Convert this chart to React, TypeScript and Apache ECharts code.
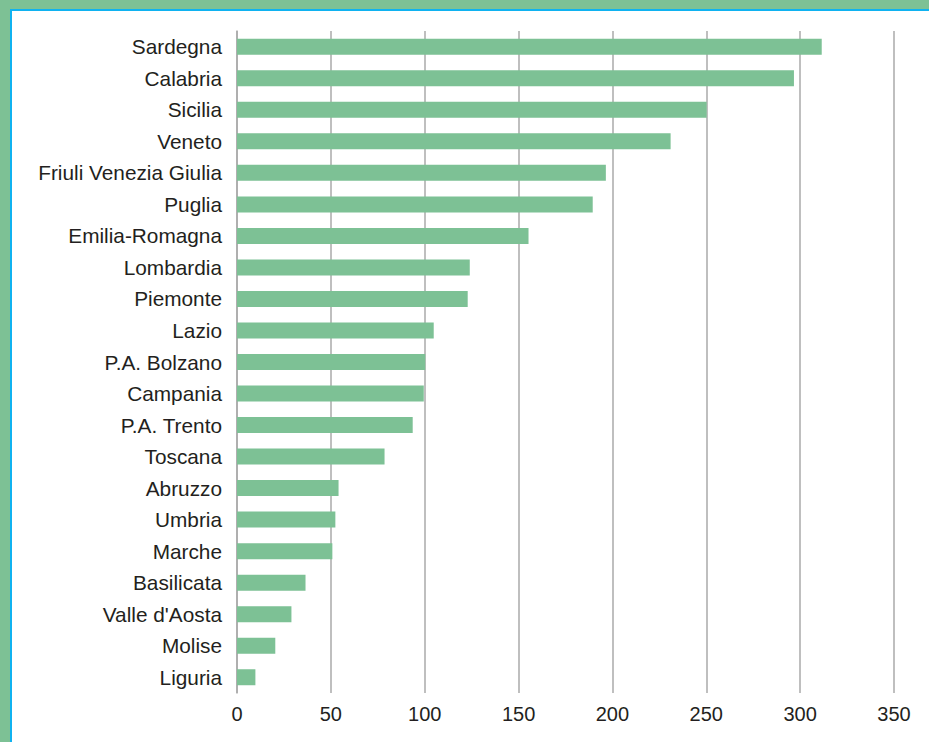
import React, { useEffect, useRef } from "react";
import * as echarts from "echarts";

const regions = [
  "Sardegna",
  "Calabria",
  "Sicilia",
  "Veneto",
  "Friuli Venezia Giulia",
  "Puglia",
  "Emilia-Romagna",
  "Lombardia",
  "Piemonte",
  "Lazio",
  "P.A. Bolzano",
  "Campania",
  "P.A. Trento",
  "Toscana",
  "Abruzzo",
  "Umbria",
  "Marche",
  "Basilicata",
  "Valle d'Aosta",
  "Molise",
  "Liguria",
];

const values = [
  311.5, 296.7, 250.2, 231.0, 196.5, 189.5, 155.3, 124.0, 122.9, 104.8, 100.3,
  99.5, 93.6, 78.6, 54.1, 52.4, 50.8, 36.5, 29.0, 20.4, 9.8,
];

const xTicks = [0, 50, 100, 150, 200, 250, 300, 350];

const GREEN = "#7dc195";
const BLUE = "#10b2f0";
const TEXT = "#231f20";
const GRID = "#aaaaaa";

export default function App() {
  const ref = useRef<HTMLDivElement>(null);

  useEffect(() => {
    if (!ref.current) return;
    const chart = echarts.init(ref.current, undefined, { renderer: "svg" });
    chart.setOption({
      animation: false,
      grid: { left: 237, right: 35, top: 31, bottom: 49, containLabel: false },
      xAxis: {
        type: "value",
        min: xTicks[0],
        max: xTicks[xTicks.length - 1],
        interval: 50,
        axisLine: { show: false },
        axisTick: { show: false },
        axisLabel: {
          color: TEXT,
          fontSize: 20,
          fontFamily: "Liberation Sans, Arial, sans-serif",
          margin: 11,
        },
        splitLine: { show: true, lineStyle: { color: GRID, width: 1.5 } },
      },
      yAxis: {
        type: "category",
        data: regions,
        inverse: true,
        axisLine: { show: true, lineStyle: { color: GRID, width: 1.5 } },
        axisTick: { show: false },
        axisLabel: {
          color: TEXT,
          fontSize: 20.8,
          fontFamily: "Liberation Sans, Arial, sans-serif",
          margin: 15,
        },
        splitLine: { show: false },
      },
      series: [
        {
          type: "bar",
          data: values,
          barWidth: 16,
          itemStyle: { color: GREEN },
        },
      ],
    });
    return () => chart.dispose();
  }, []);

  return (
    <div
      style={{
        position: "absolute",
        left: 0,
        top: 0,
        width: 929,
        height: 742,
        background: GREEN,
        overflow: "hidden",
      }}
    >
      <div
        style={{
          position: "absolute",
          left: 10,
          top: 9,
          right: 0,
          bottom: 0,
          background: "#ffffff",
          borderLeft: `2px solid ${BLUE}`,
          borderTop: `2px solid ${BLUE}`,
        }}
      />
      <div
        ref={ref}
        style={{ position: "absolute", left: 0, top: 0, width: 929, height: 742 }}
      />
    </div>
  );
}
